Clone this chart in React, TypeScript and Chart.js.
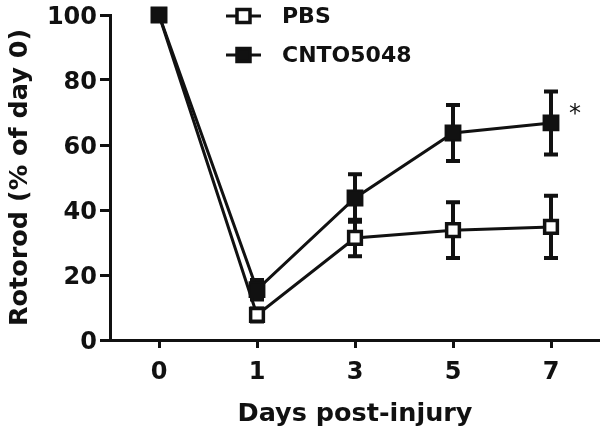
import React, { useEffect, useRef } from "react";
import { Chart, registerables } from "chart.js";

Chart.register(...registerables);

const days = ["0", "1", "3", "5", "7"];
const pbsMean = [100, 7.7, 31.4, 33.8, 34.8];
const pbsErr = [0, 2, 5.6, 8.6, 9.6];
const cntoMean = [100, 15.5, 43.7, 63.7, 66.8];
const cntoErr = [0, 3, 7.3, 8.6, 9.7];
const seriesNames = ["PBS", "CNTO5048"];
const yTicks = [0, 20, 40, 60, 80, 100];
const yTitle = "Rotorod (% of day 0)";
const xTitle = "Days post-injury";
const sigMark = "*";

const FONT = "DejaVu Sans";
const INK = "#111";

const errorBars = {
  id: "errorBars",
  beforeDatasetsDraw(chart: any) {
    const ctx = chart.ctx;
    const ys = chart.scales.y;
    ctx.save();
    ctx.strokeStyle = INK;
    ctx.lineCap = "butt";
    chart.data.datasets.forEach((ds: any, i: number) => {
      const meta = chart.getDatasetMeta(i);
      meta.data.forEach((el: any, j: number) => {
        const e = ds.errors[j];
        if (!e) return;
        const v = ds.data[j];
        const t = ys.getPixelForValue(v + e);
        const b = ys.getPixelForValue(v - e);
        ctx.lineWidth = 4;
        ctx.beginPath();
        ctx.moveTo(el.x, t);
        ctx.lineTo(el.x, b);
        ctx.stroke();
        ctx.lineWidth = 4;
        ctx.beginPath();
        ctx.moveTo(el.x - 7, t);
        ctx.lineTo(el.x + 7, t);
        ctx.moveTo(el.x - 7, b);
        ctx.lineTo(el.x + 7, b);
        ctx.stroke();
      });
    });
    ctx.restore();
  },
};

const customLegend = {
  id: "customLegend",
  afterDraw(chart: any) {
    const ctx = chart.ctx;
    ctx.save();
    const rows = [
      { name: seriesNames[0], y: 16, fill: "#fff" },
      { name: seriesNames[1], y: 55, fill: INK },
    ];
    rows.forEach((r) => {
      ctx.strokeStyle = INK;
      ctx.lineWidth = 3;
      ctx.beginPath();
      ctx.moveTo(226, r.y);
      ctx.lineTo(261, r.y);
      ctx.stroke();
      ctx.fillStyle = r.fill;
      ctx.beginPath();
      ctx.rect(237, r.y - 6.5, 13, 13);
      ctx.fill();
      ctx.lineWidth = 3.5;
      ctx.stroke();
      ctx.fillStyle = INK;
      ctx.font = `bold 22px "${FONT}"`;
      ctx.textAlign = "left";
      ctx.textBaseline = "middle";
      ctx.fillText(r.name, 282, r.y + 1);
    });
    const meta = chart.getDatasetMeta(0);
    const last = meta.data[meta.data.length - 1];
    ctx.font = `24px "${FONT}"`;
    ctx.textAlign = "center";
    ctx.textBaseline = "alphabetic";
    ctx.fillText(sigMark, last.x + 24, 121);
    ctx.restore();
  },
};

export default function App() {
  const ref = useRef<HTMLCanvasElement>(null);
  useEffect(() => {
    if (!ref.current) return;
    const chart = new Chart(ref.current, {
      type: "line",
      data: {
        labels: days,
        datasets: [
          {
            label: seriesNames[1],
            data: cntoMean,
            errors: cntoErr,
            borderColor: INK,
            backgroundColor: INK,
            borderWidth: 3,
            pointStyle: "rect",
            pointRadius: 10.5,
            pointBorderWidth: 2,
            pointBackgroundColor: INK,
            pointBorderColor: INK,
            tension: 0,
            clip: false,
          } as any,
          {
            label: seriesNames[0],
            data: pbsMean,
            errors: pbsErr,
            borderColor: INK,
            backgroundColor: "#fff",
            borderWidth: 3,
            pointStyle: "rect",
            pointRadius: 9,
            pointBorderWidth: 3.5,
            pointBackgroundColor: "#fff",
            pointBorderColor: INK,
            tension: 0,
            clip: false,
          } as any,
        ],
      },
      options: {
        responsive: false,
        animation: false,
        layout: { autoPadding: false, padding: { top: 15, left: 0, right: 0, bottom: 0 } },
        plugins: {
          legend: { display: false },
          tooltip: { enabled: false },
        },
        scales: {
          x: {
            type: "category",
            offset: true,
            grid: {
              display: true,
              drawOnChartArea: false,
              drawTicks: true,
              tickLength: 8,
              tickWidth: 3,
              tickColor: INK,
              color: INK,
            },
            border: { display: true, color: INK, width: 3 },
            ticks: {
              color: INK,
              padding: 10,
              font: { family: FONT, size: 24, weight: "bold" },
            },
            title: {
              display: true,
              text: xTitle,
              color: INK,
              padding: { top: 0, bottom: 1 },
              font: { family: FONT, size: 25.5, weight: "bold" },
            },
            afterFit: (s: any) => {
              s.height = 91;
              s.paddingLeft = 0;
              s.paddingRight = 0;
            },
          },
          y: {
            min: 0,
            max: 100,
            afterBuildTicks: (s: any) => {
              s.ticks = yTicks.map((v) => ({ value: v }));
            },
            grid: {
              display: true,
              drawOnChartArea: false,
              drawTicks: true,
              tickLength: 10,
              tickWidth: 3,
              tickColor: INK,
              color: INK,
            },
            border: { display: true, color: INK, width: 3 },
            ticks: {
              color: INK,
              padding: 3,
              labelOffset: 3,
              font: { family: FONT, size: 24, weight: "bold" },
            },
            title: {
              display: true,
              text: yTitle,
              color: INK,
              padding: { top: 5, bottom: 0 },
              font: { family: FONT, size: 25.5, weight: "bold" },
            },
            afterFit: (s: any) => {
              s.width = 110;
              s.paddingTop = 0;
              s.paddingBottom = 0;
            },
          },
        },
      },
      plugins: [errorBars, customLegend],
    } as any);
    return () => chart.destroy();
  }, []);
  return (
    <div style={{ position: "absolute", left: 0, top: 0, width: 600, height: 431, background: "#fff" }}>
      <canvas ref={ref} width={600} height={431} style={{ display: "block" }} />
    </div>
  );
}
